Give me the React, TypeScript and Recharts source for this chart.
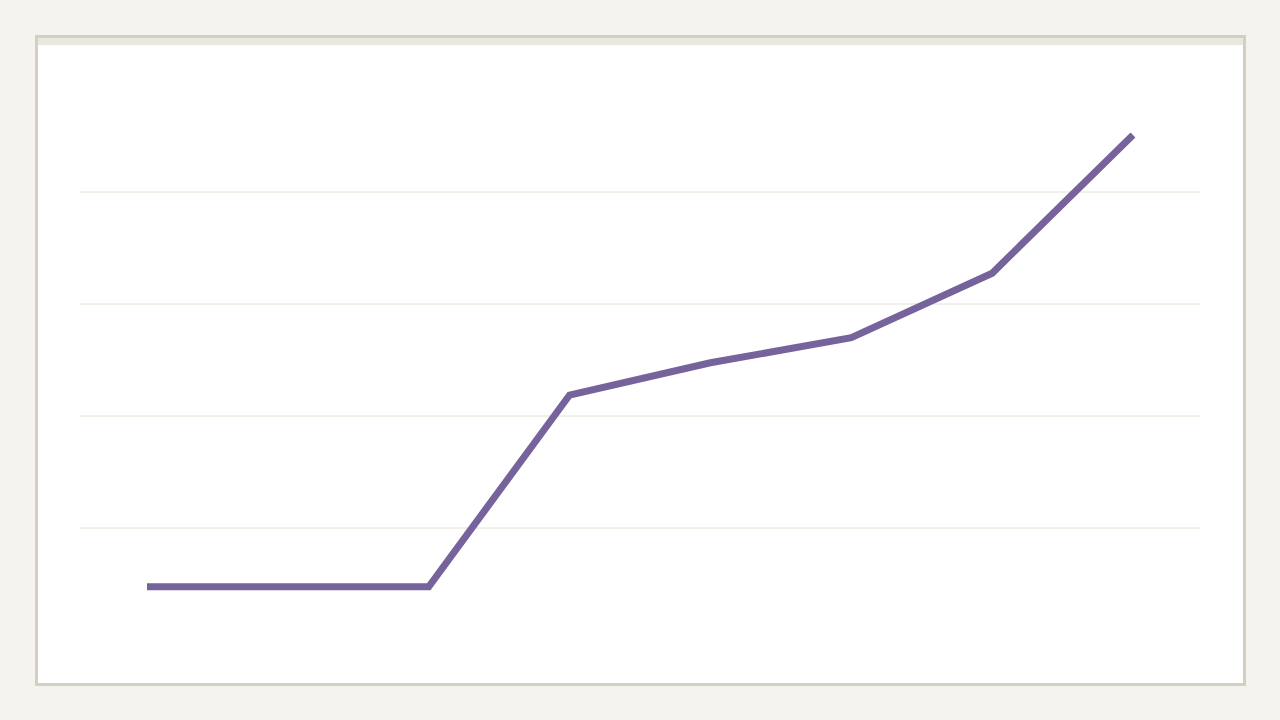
import React from "react";
import { Line, LineChart, ReferenceLine, XAxis, YAxis } from "recharts";

const categories = ["1", "2", "3", "4", "5", "6", "7", "8"];
const values = [9.5, 9.5, 9.5, 43.75, 49.5, 54, 65.5, 90.2];
const yTicks = [20, 40, 60, 80];

const data = categories.map((c, i) => ({ key: c, value: values[i] }));

export default function App() {
  return (
    <div
      style={{
        position: "fixed",
        left: 0,
        top: 0,
        width: 1280,
        height: 720,
        background: "#f4f3ee",
        overflow: "hidden",
      }}
    >
      <div
        style={{
          position: "absolute",
          left: 35,
          top: 35,
          width: 1211,
          height: 651,
          boxSizing: "border-box",
          border: "3px solid #d3cfc5",
          background: "#ffffff",
        }}
      >
        <div style={{ height: 7, background: "#ebe8df" }} />
      </div>
      <div style={{ position: "absolute", left: 0, top: 0 }}>
        <LineChart
          width={1280}
          height={720}
          data={data}
          margin={{ top: 80, right: 80, bottom: 80, left: 80 }}
        >
          <XAxis dataKey="key" hide padding={{ left: 67, right: 67 }} />
          <YAxis hide domain={[0, 100]} ticks={yTicks} />
          {/* gridlines only between the edges */}
          {yTicks.map((t) => (
            <ReferenceLine key={t} y={t} stroke="#e2e2d3" strokeWidth={1} />
          ))}
          <Line
            type="linear"
            dataKey="value"
            stroke="#76639b"
            strokeWidth={7}
            strokeLinecap="butt"
            strokeLinejoin="miter"
            dot={false}
            activeDot={false}
            isAnimationActive={false}
          />
        </LineChart>
      </div>
    </div>
  );
}
